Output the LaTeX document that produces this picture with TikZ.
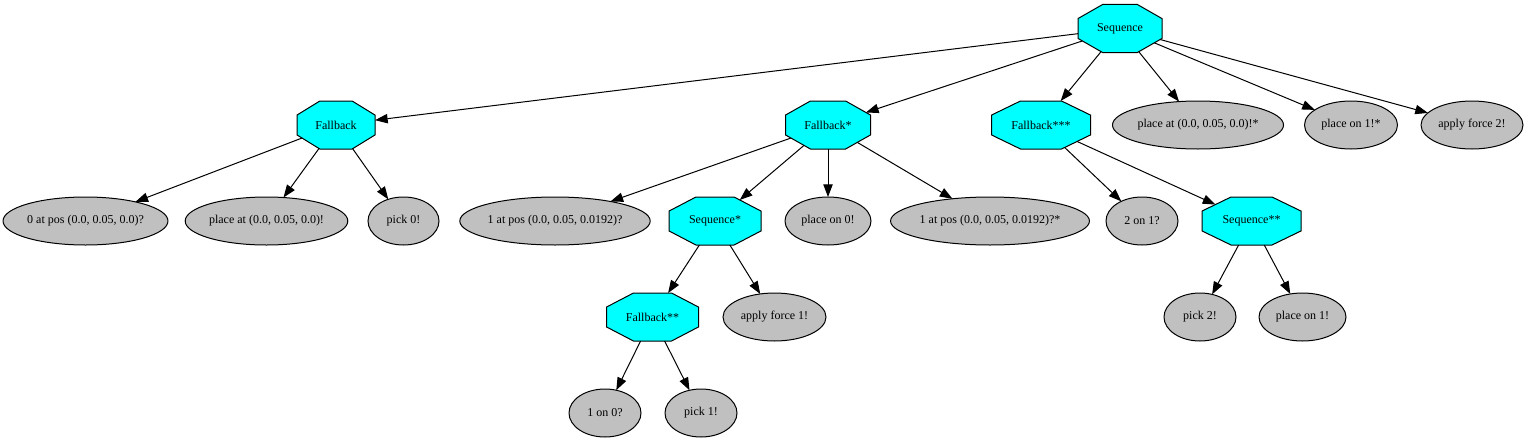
\documentclass[tikz,border=0pt]{standalone}
\usepackage{fontspec}
\setmainfont{Liberation Serif}
\usetikzlibrary{shapes.geometric,arrows.meta}
\definecolor{gvcyan}{HTML}{00FFFF}
\definecolor{gvgray}{HTML}{C0C0C0}
\begin{document}
\begin{tikzpicture}[x=0.75pt,y=-0.75pt,
  oct/.style={regular polygon, regular polygon sides=8, minimum size=38.97pt,
    inner sep=0pt, outer sep=0pt, draw=black, fill=gvcyan, line width=0.75pt,
    transform shape, xscale=#1/48},
  ell/.style={ellipse, draw=black, fill=gvgray, inner sep=0pt, outer sep=0pt,
    minimum height=36pt, minimum width=#1*0.75pt, line width=0.75pt},
  lbl/.style={inner sep=0pt},
  arr/.style={-{Triangle[length=9.5pt,width=7pt]}, line width=0.75pt},
  font=\fontsize{9pt}{10pt}\selectfont]
\useasboundingbox (0,0) rectangle (1528,443);
% octagons
\node[oct=84] (root) at (1120,28.5) {};
\node[lbl] (root-t) at (root) {Sequence};
\node[oct=78] (fb) at (336,125) {};
\node[lbl] (fb-t) at (fb) {Fallback};
\node[oct=85] (fbs) at (828,125) {};
\node[lbl] (fbs-t) at (fbs) {Fallback*};
\node[oct=99] (fbsss) at (1041,125) {};
\node[lbl] (fbsss-t) at (fbsss) {Fallback***};
\node[oct=92] (seqs) at (715,221) {};
\node[lbl] (seqs-t) at (seqs) {Sequence*};
\node[oct=99] (seqss) at (1251.5,221) {};
\node[lbl] (seqss-t) at (seqss) {Sequence**};
\node[oct=92] (fbss) at (652.5,317) {};
\node[lbl] (fbss-t) at (fbss) {Fallback**};
% ellipses
\node[ell=161] (e1) at (85.5,221) {0 at pos (0.0, 0.05, 0.0)?};
\node[ell=155] (e2) at (266.5,221) {place at (0.0, 0.05, 0.0)!};
\node[ell=71] (e3) at (403.5,221) {pick 0!};
\node[ell=182] (e4) at (555,221) {1 at pos (0.0, 0.05, 0.0192)?};
\node[ell=86] (e5) at (828,221) {place on 0!};
\node[ell=190] (e6) at (990,221) {1 at pos (0.0, 0.05, 0.0192)?*};
\node[ell=72] (e7) at (1142,221) {2 on 1?};
\node[ell=164] (e8) at (1198,125) {place at (0.0, 0.05, 0.0)!*};
\node[ell=93] (e9) at (1351,125) {place on 1!*};
\node[ell=102] (e10) at (1472,125) {apply force 2!};
\node[ell=103] (e11) at (774.5,317) {apply force 1!};
\node[ell=72] (e12) at (1200,317) {pick 2!};
\node[ell=87] (e13) at (1302.5,317) {place on 1!};
\node[ell=72] (e14) at (605,413) {1 on 0?};
\node[ell=72] (e15) at (701,413) {pick 1!};
% edges
\foreach \a/\b in {root/fb, root/fbs, root/fbsss, root/e8, root/e9, root/e10,
  fb/e1, fb/e2, fb/e3, fbs/e4, fbs/seqs, fbs/e5, fbs/e6, seqs/fbss, seqs/e11,
  fbss/e14, fbss/e15, fbsss/e7, fbsss/seqss, seqss/e12, seqss/e13}
  \draw[arr] (\a) -- (\b);
\end{tikzpicture}
\end{document}
